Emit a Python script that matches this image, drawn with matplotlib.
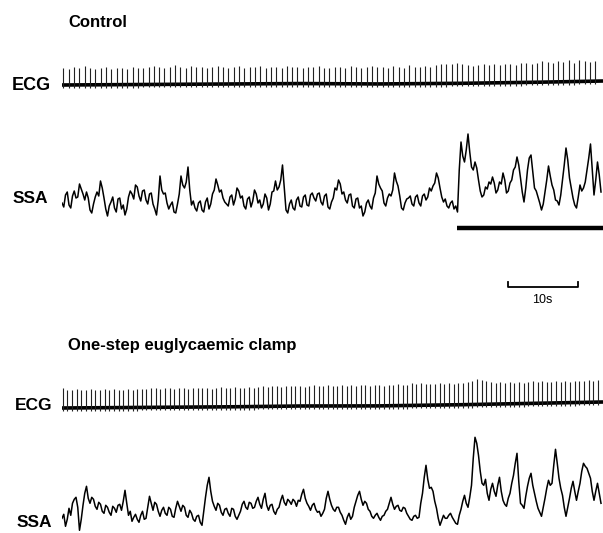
import numpy as np
import matplotlib
matplotlib.use("Agg")
import matplotlib.pyplot as plt

plt.rcParams['font.family'] = ['Liberation Sans', 'DejaVu Sans']

# ---- data (px above baseline) ----
# main samples every 0.5 s, plus the in-between samples (jitter) at +0.25 s
ssa_dt = 0.5
ssa_control = [
    -3, 5, -5, 4, 2, 16, 6, 8, -10, -4, 8, 19, 2, -16, -2, -8, 1, -9, -15, 3,
    6, 15, 4, 9, 0, 6, -4, -15, 24, 6, -3, -5, -12, -4, 24, 12, 33, -5, -8, -3,
    -10, -2, -9, 6, 21, 8, 2, -4, 3, -5, 12, 2, -6, 1, -7, 10, -3, -8, 6, -10,
    8, 19, 13, 35, -10, -4, -8, 0, -6, 3, -5, 5, 2, 6, -2, 4, -7, -2, 12, 20,
    6, 0, 5, -6, 1, -8, -16, -3, -6, 2, 24, 12, -3, 2, 4, 27, 14, -8, -3, 2,
    -4, 3, -3, 4, 0, 12, 14, 27, 12, -2, -6, -3, -9, -12, 58, 38, 66, 33, 38, 20,
    3, 13, 18, 23, 7, 18, 27, 7, 17, 30, 43, 22, -2, 30, 45, 12, 3, -10, 8, 34,
    15, 0, -5, 20, 52, 22, 2, -8, 15, 12, 30, 56, 5, 38, 8,
]
ssa_control_mid = [
    -7, 8, -8, 9, 3, 11, 0, 2, -13, 3, 4, 12, -9, -6, 3, -12, 2, -5, -9, 9,
    1, 13, -1, 10, -4, 7, -9, 0, 10, 7, -9, -2, -13, 6, 15, 18, 10, -1, -11, -1,
    -12, 2, -4, 10, 15, 10, -2, -6, 5, 1, 9, 4, -9, 3, -1, 6, 0, -4, 2, -4,
    9, 10, 20, 12, -13, 0, -10, 3, -7, 5, -6, 7, -1, 7, -5, 6, -9, 2, 10, 16,
    8, -3, 6, -8, 2, -6, -12, 0, -9, 7, 16, 9, -6, 6, 10, 19, 4, -10, 1, 4,
    -6, 5, -6, 6, 3, 9, 17, 22, 3, 1, -8, -1, -6, 30, 44, 50, 48, 30, 32, 9,
    5, 11, 16, 17, 10, 16, 20, 9, 20, 33, 35, 8, 12, 42, 28, 9, -3, -4, 20, 24,
    10, -1, 5, 35, 40, 12, -5, 3, 9, 18, 42, 30, 20, 25,
]
ssa_clamp = [
    -5, -13, 5, 10, 16, -17, 8, 27, 10, 14, 4, 9, 0, 6, -2, 5, 8, 3, 23, -2,
    -8, -1, -9, 2, -5, 17, 3, 9, -3, 6, -2, 4, -4, 12, 2, 6, -4, 0, -8, -2,
    -12, 16, 36, 12, 3, 8, -2, 5, -3, 4, -6, 2, 12, 4, 10, 6, 16, 5, 20, 3,
    9, -1, 6, 18, 8, 12, 14, 7, 12, 24, 10, 3, 10, 1, -3, 4, 22, 8, 2, 6,
    -2, -11, 0, -3, 12, 22, 8, 10, 2, -5, 0, -7, -2, 4, 16, 4, 8, 2, 5, -3,
    -7, -2, -4, 20, 48, 25, 22, 5, -12, -2, -5, 0, -7, -11, 4, 18, 6, 28, 76, 58,
    30, 34, 13, 30, 17, 36, 13, 7, 20, 38, 60, 10, 5, 27, 40, 20, 5, -3, 15, 33,
    30, 64, 35, 18, -3, 15, 32, 13, 30, 50, 45, 35, 13, 30, 10,
]
ssa_clamp_mid = [
    -1, -6, -2, 14, 6, -6, 20, 15, 16, 7, 11, 2, 8, 1, 7, 1, 9, 12, 10, 2,
    -4, -6, -2, -6, 6, 10, 11, 2, 3, 0, 6, -3, 5, 7, 8, -2, 3, -6, -3, -9,
    2, 28, 22, 7, 10, 1, 4, 0, 5, -3, -2, 9, 6, 11, 5, 12, 9, 14, 8, 8,
    2, 4, 13, 11, 14, 9, 12, 13, 19, 15, 7, 8, 4, 2, 0, 15, 14, 4, 6, 1,
    -7, -4, -6, 6, 18, 14, 12, 4, -3, -2, -4, -3, 2, 10, 9, 7, 3, 6, 0, -6,
    -3, -5, 10, 36, 34, 26, 12, -5, -7, -5, -2, -4, -10, -2, 12, 10, 16, 55, 70, 42,
    28, 20, 24, 22, 28, 22, 9, 15, 30, 50, 32, 8, 17, 35, 28, 12, 1, 6, 25, 28,
    48, 50, 25, 6, 6, 25, 22, 22, 42, 47, 40, 22, 22, 20,
]

# ECG: spike heights per beat (px), mean R-R interval (s)
ecg_control_rr = 0.76
ecg_control_first = 0.2
ecg_control_h = [
    17, 16, 18, 17, 19, 17, 16, 17, 18, 16,
    17, 17, 16, 18, 17, 16, 17, 18, 17, 16,
    17, 19, 17, 16, 18, 17, 17, 16, 17, 18,
    17, 16, 17, 18, 16, 17, 17, 18, 16, 17,
    17, 16, 18, 17, 17, 16, 17, 17, 18, 16,
    16, 17, 17, 16, 18, 17, 16, 17, 18, 17,
    17, 16, 18, 17, 16, 19, 17, 17, 18, 17,
    19, 20, 20, 19, 20, 19, 18, 17, 18, 19,
    18, 19, 18, 19, 19, 18, 20, 19, 18, 19,
    21, 20, 19, 21, 20, 22, 19, 21, 20, 19, 20,
]
ecg_clamp_rr = 0.665
ecg_clamp_first = 0.1
ecg_clamp_h = [
    20, 18, 18, 19, 18, 18, 19, 18, 18, 19,
    18, 19, 18, 18, 19, 18, 19, 18, 18, 19,
    19, 18, 19, 19, 18, 19, 19, 18, 19, 19,
    19, 19, 18, 19, 20, 19, 19, 20, 19, 19,
    20, 19, 19, 20, 19, 20, 20, 19, 20, 20,
    20, 20, 19, 20, 21, 20, 20, 21, 20, 20,
    21, 20, 21, 20, 21, 21, 20, 21, 21, 20,
    21, 21, 22, 21, 21, 22, 21, 22, 21, 21,
    21, 22, 21, 22, 21, 22, 22, 23, 24, 25,
    24, 23, 22, 21, 22, 21, 22, 21, 22, 21,
    21, 22, 21, 22, 21, 21, 22, 21, 22, 21,
    22, 21, 21, 22, 21, 22,
]
# baseline drift of the ECG (s, px)
ecg_base_t = [0, 11, 22, 33, 44, 55, 66, 77]
ecg_control_base = [0, 0.5, 1, 1.5, 1, 1.5, 2.5, 4]
ecg_clamp_base = [0, 0.5, 1, 2, 2, 3, 4.5, 6]

stim_start = 56.4      # s, start of the black bar
scale_bar = 10         # s
scale_start = 63.7     # s

# ---- figure in pixel layout ----
W, H = 603, 533
PX_PER_S = 7.0
X0 = 62
T_END = (W - X0) / PX_PER_S

fig = plt.figure(figsize=(W / 100, H / 100), dpi=100)


def px_axes(y_top, y_bot, y_base):
    ax = fig.add_axes([X0 / W, 1 - y_bot / H, (W - X0) / W, (y_bot - y_top) / H])
    ax.set_xlim(0, T_END)
    ax.set_ylim(-(y_bot - y_base), y_base - y_top)
    ax.axis("off")
    return ax


def draw_ecg(ax, heights, rr, first, base):
    beats = first + rr * np.arange(len(heights))
    tb = np.linspace(0, T_END, 400)
    yb = np.interp(tb, ecg_base_t, base)
    ax.plot(tb, yb, color="black", lw=2.6, solid_capstyle="butt")
    b0 = np.interp(beats, ecg_base_t, base)
    ax.vlines(beats, b0 - 3, b0 + np.asarray(heights), color="#222222", lw=0.8)


def draw_ssa(ax, values, mids):
    t = np.arange(len(values)) * ssa_dt
    tm = (np.arange(len(mids)) + 0.5) * ssa_dt
    tt = np.empty(len(t) + len(tm))
    vv = np.empty(len(t) + len(tm))
    tt[0::2], tt[1::2] = t, tm
    vv[0::2], vv[1::2] = values, mids
    ax.plot(tt, vv, color="black", lw=1.1)


ax_ecg1 = px_axes(50, 95, 85)
draw_ecg(ax_ecg1, ecg_control_h, ecg_control_rr, ecg_control_first, ecg_control_base)

ax_ssa1 = px_axes(120, 310, 200)
draw_ssa(ax_ssa1, ssa_control, ssa_control_mid)
# stimulus bar
ax_ssa1.plot([stim_start, T_END], [-28, -28], color="black", lw=3.2,
             solid_capstyle="butt")
# 10 s scale bar
ax_ssa1.plot([scale_start, scale_start, scale_start + scale_bar, scale_start + scale_bar],
             [-82, -87, -87, -82], color="black", lw=1.3)
ax_ssa1.text(scale_start + scale_bar / 2 - 0.1, -103, "10s", ha="center",
             va="baseline", fontsize=9)

ax_ecg2 = px_axes(370, 420, 408)
draw_ecg(ax_ecg2, ecg_clamp_h, ecg_clamp_rr, ecg_clamp_first, ecg_clamp_base)

ax_ssa2 = px_axes(420, 533, 513.3)
draw_ssa(ax_ssa2, ssa_clamp, ssa_clamp_mid)


def label(x, y, s, size, weight="bold"):
    fig.text(x / W, 1 - y / H, s, ha="left", va="baseline", fontsize=size,
             fontweight=weight)


label(68, 27, "Control", 12)
label(12, 90, "ECG", 13)
label(13, 203, "SSA", 12.5)
label(68, 350, "One-step euglycaemic clamp", 12)
label(15, 410, "ECG", 12.5)
label(17, 527, "SSA", 12.5)

fig.savefig("out.png", dpi=100)
